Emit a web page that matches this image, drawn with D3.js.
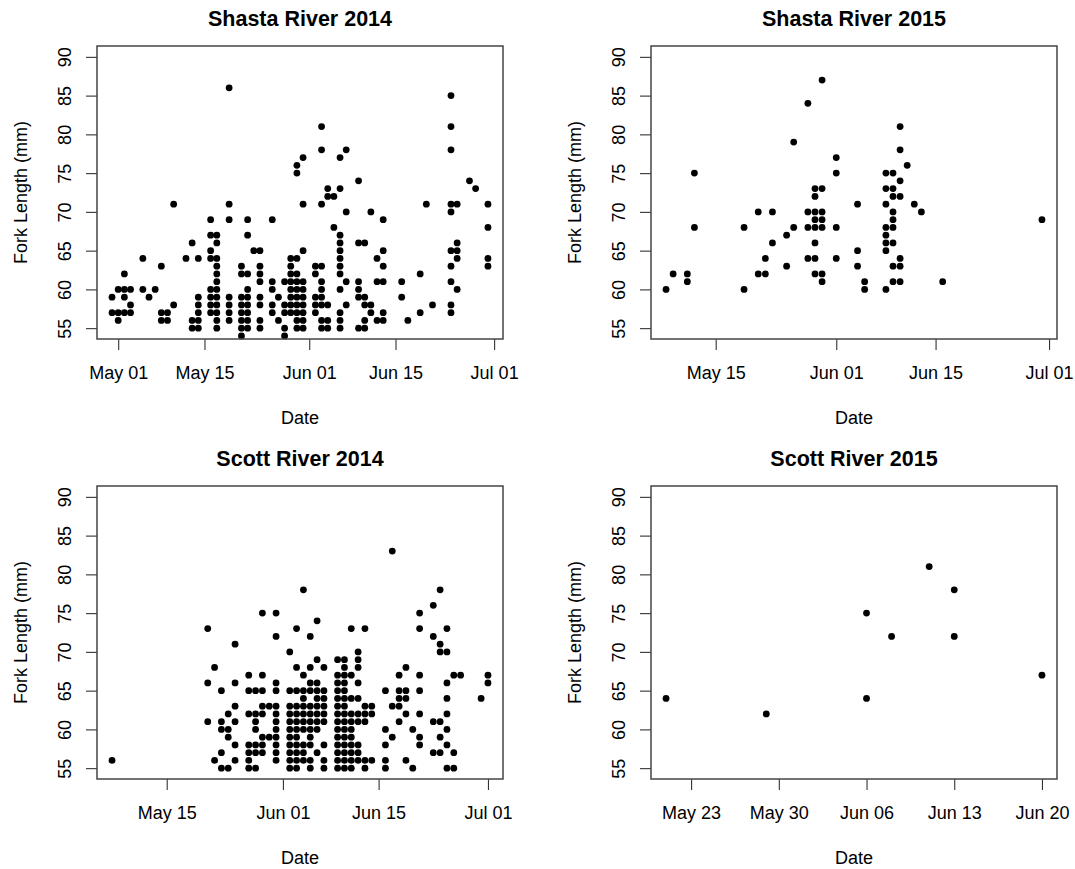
<!DOCTYPE html>
<html>
<head>
<meta charset="utf-8">
<script src="https://cdn.jsdelivr.net/npm/d3@7"></script>
<style>
  body { margin: 0; background: #fff; }
  text { font-family: "Liberation Sans", Arial, sans-serif; fill: #000; }
</style>
</head>
<body>
<svg id="chart" width="1075" height="869"></svg>
<script>

// fork length (mm) of each fish, grouped by sampling date
const shasta2014 = [
  ["2014-04-30", [59, 57]],
  ["2014-05-01", [60, 57, 56]],
  ["2014-05-02", [62, 60, 59, 57]],
  ["2014-05-03", [60, 58, 57]],
  ["2014-05-05", [64, 60]],
  ["2014-05-06", [59]],
  ["2014-05-07", [60]],
  ["2014-05-08", [63, 57, 56]],
  ["2014-05-09", [57, 56]],
  ["2014-05-10", [71, 58]],
  ["2014-05-12", [64]],
  ["2014-05-13", [66, 56, 55]],
  ["2014-05-14", [64, 59, 58, 57, 56, 55]],
  ["2014-05-16", [69, 67, 65, 64, 60, 59, 58, 57]],
  ["2014-05-17", [67, 66, 64, 63, 62, 61, 60, 59, 58, 57, 56, 55]],
  ["2014-05-19", [86, 71, 69, 59, 58, 57, 56]],
  ["2014-05-21", [63, 62, 59, 58, 57, 56, 55, 54]],
  ["2014-05-22", [69, 67, 62, 60, 59, 58, 57, 56, 55]],
  ["2014-05-23", [65]],
  ["2014-05-24", [65, 63, 62, 61, 59, 58, 56, 55]],
  ["2014-05-26", [69, 61, 60, 58, 57]],
  ["2014-05-27", [59, 56]],
  ["2014-05-28", [61, 58, 57, 55, 54]],
  ["2014-05-29", [64, 63, 62, 61, 60, 59, 58, 57]],
  ["2014-05-30", [76, 75, 64, 62, 61, 60, 59, 58, 57, 56, 55]],
  ["2014-05-31", [77, 71, 65, 61, 60, 59, 58, 57, 56, 55]],
  ["2014-06-02", [63, 62, 59, 58, 57]],
  ["2014-06-03", [81, 78, 71, 63, 61, 60, 59, 58, 56, 55]],
  ["2014-06-04", [73, 72, 58, 56, 55]],
  ["2014-06-05", [72, 68]],
  ["2014-06-06", [77, 73, 67, 66, 65, 64, 63, 62, 60, 57, 56, 55]],
  ["2014-06-07", [78, 70, 61, 58]],
  ["2014-06-09", [74, 66, 61, 60, 59, 55]],
  ["2014-06-10", [66, 59, 58, 56, 55]],
  ["2014-06-11", [70, 58, 57]],
  ["2014-06-12", [64, 61, 56]],
  ["2014-06-13", [69, 65, 63, 61, 57, 56]],
  ["2014-06-16", [61, 59]],
  ["2014-06-17", [56]],
  ["2014-06-19", [62, 57]],
  ["2014-06-20", [71]],
  ["2014-06-21", [58]],
  ["2014-06-24", [85, 81, 78, 71, 70, 65, 63, 61, 58, 57]],
  ["2014-06-25", [71, 66, 65, 64, 60]],
  ["2014-06-27", [74]],
  ["2014-06-28", [73]],
  ["2014-06-30", [71, 68, 64, 63]]
]

const shasta2015 = [
  ["2015-05-08", [60]],
  ["2015-05-09", [62]],
  ["2015-05-11", [62, 61]],
  ["2015-05-12", [75, 68]],
  ["2015-05-19", [68, 60]],
  ["2015-05-21", [70, 62]],
  ["2015-05-22", [64, 62]],
  ["2015-05-23", [70, 66]],
  ["2015-05-25", [67, 63]],
  ["2015-05-26", [79, 68]],
  ["2015-05-28", [84, 70, 68, 64]],
  ["2015-05-29", [73, 72, 70, 69, 68, 66, 64, 62]],
  ["2015-05-30", [87, 73, 70, 69, 68, 62, 61]],
  ["2015-06-01", [77, 75, 68, 64]],
  ["2015-06-04", [71, 65, 63]],
  ["2015-06-05", [61, 60]],
  ["2015-06-08", [75, 73, 71, 68, 67, 66, 65, 60]],
  ["2015-06-09", [75, 73, 72, 70, 69, 68, 66, 63, 61]],
  ["2015-06-10", [81, 78, 74, 72, 64, 63, 61]],
  ["2015-06-11", [76]],
  ["2015-06-12", [71]],
  ["2015-06-13", [70]],
  ["2015-06-16", [61]],
  ["2015-06-30", [69]]
]

const scott2014 = [
  ["2014-05-07", [56]],
  ["2014-05-21", [73, 66, 61]],
  ["2014-05-22", [68, 56]],
  ["2014-05-23", [65, 61, 60, 57, 55]],
  ["2014-05-24", [62, 60, 59, 55]],
  ["2014-05-25", [71, 66, 63, 61, 58, 56]],
  ["2014-05-27", [67, 65, 62, 58, 57, 56, 55]],
  ["2014-05-28", [65, 62, 61, 60, 58, 57, 55]],
  ["2014-05-29", [75, 67, 65, 63, 62, 59, 58, 57]],
  ["2014-05-30", [63, 59]],
  ["2014-05-31", [75, 72, 66, 65, 63, 62, 61, 60, 59, 58, 57, 56]],
  ["2014-06-02", [70, 65, 63, 62, 61, 60, 59, 58, 57, 56, 55]],
  ["2014-06-03", [73, 68, 65, 63, 62, 61, 60, 59, 58, 57, 56, 55]],
  ["2014-06-04", [78, 67, 65, 64, 63, 62, 61, 60, 58, 57, 56]],
  ["2014-06-05", [72, 68, 66, 65, 63, 62, 61, 60, 59, 58, 56, 55]],
  ["2014-06-06", [74, 69, 66, 65, 64, 63, 62, 61, 60, 57]],
  ["2014-06-07", [68, 65, 64, 63, 62, 61, 58, 56, 55]],
  ["2014-06-09", [69, 67, 66, 65, 64, 63, 62, 61, 60, 59, 58, 57, 56, 55]],
  ["2014-06-10", [69, 68, 67, 66, 65, 64, 63, 62, 61, 60, 59, 58, 57, 56, 55]],
  ["2014-06-11", [73, 67, 64, 62, 61, 60, 59, 58, 57, 56, 55]],
  ["2014-06-12", [70, 69, 68, 66, 64, 62, 61, 58, 57, 56]],
  ["2014-06-13", [73, 63, 62, 61, 56, 55]],
  ["2014-06-14", [63, 62, 56]],
  ["2014-06-16", [65, 60, 58, 56, 55]],
  ["2014-06-17", [83, 63, 59]],
  ["2014-06-18", [67, 65, 64, 63, 61]],
  ["2014-06-19", [68, 65, 64, 62, 56]],
  ["2014-06-20", [60, 55]],
  ["2014-06-21", [75, 73, 67, 65, 62, 59, 58]],
  ["2014-06-23", [76, 72, 61, 57]],
  ["2014-06-24", [78, 71, 70, 61, 59, 57]],
  ["2014-06-25", [73, 70, 66, 64, 62, 60, 58, 55]],
  ["2014-06-26", [67, 57, 55]],
  ["2014-06-27", [67]],
  ["2014-06-30", [64]],
  ["2014-07-01", [67, 66]]
]

const scott2015 = [
  ["2015-05-21", [64]],
  ["2015-05-29", [62]],
  ["2015-06-06", [75, 64]],
  ["2015-06-08", [72]],
  ["2015-06-11", [81]],
  ["2015-06-13", [78, 72]],
  ["2015-06-20", [67]]
]

const shasta2014Ticks = ["2014-05-01", "2014-05-15", "2014-06-01", "2014-06-15", "2014-07-01"]
const shasta2015Ticks = ["2015-05-15", "2015-06-01", "2015-06-15", "2015-07-01"]
const scott2014Ticks = ["2014-05-15", "2014-06-01", "2014-06-15", "2014-07-01"]
const scott2015Ticks = ["2015-05-23", "2015-05-30", "2015-06-06", "2015-06-13", "2015-06-20"]
const yTicks = [55, 60, 65, 70, 75, 80, 85, 90]
const yLimits = [55, 90]

const panels = [
  { title: "Shasta River 2014", data: shasta2014, ticks: shasta2014Ticks, col: 0, row: 0 },
  { title: "Shasta River 2015", data: shasta2015, ticks: shasta2015Ticks, col: 1, row: 0 },
  { title: "Scott River 2014", data: scott2014, ticks: scott2014Ticks, col: 0, row: 1 },
  { title: "Scott River 2015", data: scott2015, ticks: scott2015Ticks, col: 1, row: 1 }
]

let parseDate = d3.timeParse("%Y-%m-%d")
let fmt = d3.timeFormat("%b %d")

let svg = d3.select("#chart")

let boxW = 406, boxH = 293
let colX = [97, 651], rowY = [46, 486]

// R style range: data extent padded by 4% on each side
function pad(ext) {
  let d = (ext[1] - ext[0]) * 0.04
  return [ext[0] - d, ext[1] + d]
}

panels.forEach(function (p) {
  let points = []
  p.data.forEach(function (row) {
    row[1].forEach(function (v) { points.push({ date: parseDate(row[0]), fl: v }) })
  })

  let g = svg.append("g")
    .attr("transform", `translate(${colX[p.col]}, ${rowY[p.row]})`)

  let xExt = pad(d3.extent(points, d => +d.date))
  let x = d3.scaleTime().domain([new Date(xExt[0]), new Date(xExt[1])]).range([0, boxW])
  let y = d3.scaleLinear().domain(pad(yLimits)).range([boxH, 0])

  // points
  g.selectAll(".dot")
    .data(points)
    .enter().append("circle")
    .attr("cx", d => x(d.date))
    .attr("cy", d => y(d.fl))
    .attr("r", 3.4)
    .attr("fill", "#000")

  // x axis
  let xAxis = g.append("g")
    .attr("transform", `translate(0, ${boxH})`)
    .call(d3.axisBottom(x)
      .tickValues(p.ticks.map(parseDate))
      .tickFormat(fmt)
      .tickSize(11)
      .tickPadding(16))
  xAxis.select(".domain").remove()
  xAxis.selectAll("line").attr("stroke", "#333").attr("stroke-width", 1.1)
  xAxis.selectAll("text").style("font-size", "18px").attr("fill", "#000")
    .style("font-family", '"Liberation Sans", Arial, sans-serif')

  // y axis, labels parallel to the axis
  let yAxis = g.append("g")
    .call(d3.axisLeft(y).tickValues(yTicks).tickSize(11))
  yAxis.select(".domain").remove()
  yAxis.selectAll("line").attr("stroke", "#333").attr("stroke-width", 1.1)
  yAxis.selectAll("text")
    .attr("x", null).attr("dy", null)
    .attr("transform", "translate(-26, 0) rotate(-90)")
    .attr("text-anchor", "middle")
    .attr("fill", "#000")
    .style("font-size", "18px")
    .style("font-family", '"Liberation Sans", Arial, sans-serif')

  // frame
  g.append("rect")
    .attr("width", boxW).attr("height", boxH)
    .attr("fill", "none").attr("stroke", "#444").attr("stroke-width", 1.5)

  g.append("text")
    .attr("x", boxW / 2).attr("y", -20)
    .attr("text-anchor", "middle")
    .style("font-size", "21.5px").style("font-weight", "bold")
    .text(p.title)

  g.append("text")
    .attr("x", boxW / 2).attr("y", boxH + 85)
    .attr("text-anchor", "middle")
    .style("font-size", "18px")
    .text("Date")

  g.append("text")
    .attr("transform", `translate(-70, ${boxH / 2}) rotate(-90)`)
    .attr("text-anchor", "middle")
    .style("font-size", "18px")
    .text("Fork Length (mm)")
})

</script>
</body>
</html>
